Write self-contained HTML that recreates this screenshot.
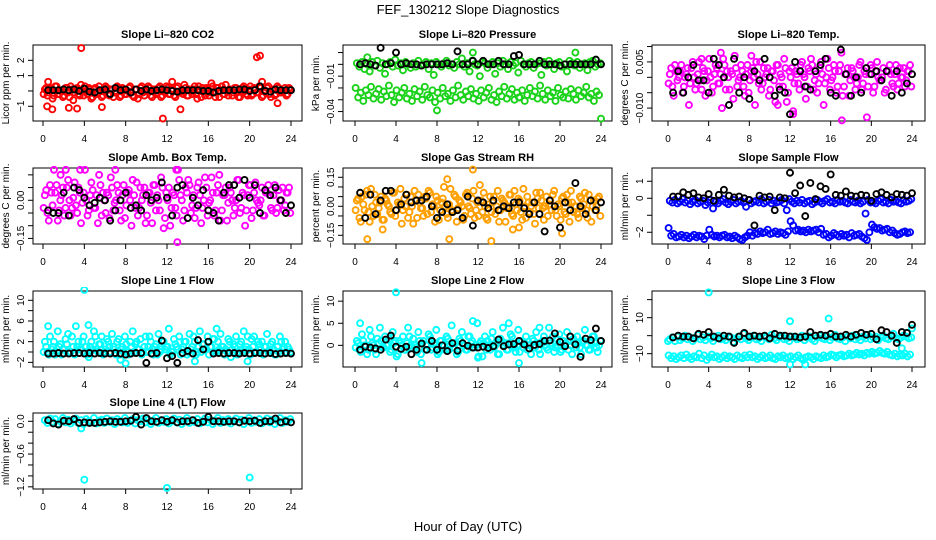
<!DOCTYPE html>
<html><head><meta charset="utf-8">
<style>
html,body{margin:0;padding:0;background:#fff;}
svg{display:block;font-family:"Liberation Sans",Arial,sans-serif;}
</style></head>
<body>
<svg id="chart" width="936" height="540" viewBox="0 0 936 540" xmlns="http://www.w3.org/2000/svg">
<text x="468" y="14" font-size="13" text-anchor="middle">FEF_130212  Slope Diagnostics</text>
<text x="468" y="531" font-size="13" text-anchor="middle">Hour of Day (UTC)</text>
</svg>
<script>
// ---- data (hours, values) ----
const xTicks = [0,4,8,12,16,20,24];

const co2Red = [0.1,-0.3,0.2,-0.5,0.3,-0.2,0.0,-0.4,0.2,-0.1,0.3,-0.6,0.1,-0.2,0.4,-0.3,0.0,0.2,-0.5,0.1,-0.2,0.3,-0.4,0.0,0.2,-0.3,0.1,-0.1,0.3,-0.4,0.2,-0.2,0.0,0.3,-0.3,0.1,-0.5,0.2,-0.1,0.0,0.3,-0.3,0.1,-0.2,0.2,-0.4,0.0,0.3,-0.2,0.1,-0.3,0.2,-0.1,0.0,0.4,-0.3,0.1,-0.2,0.3,-0.5,0.0,0.2,-0.3,0.1,-0.1,0.3,-0.4,0.2,0.0,-0.2,0.4,-0.3,0.1,-0.1,0.2,-0.4,0.0,0.3,-0.2,0.1,-0.3,0.2,-0.1,0.3,-0.4,0.0,0.2,-0.2,0.1,-0.3,0.3,-0.1,0.0,0.2,-0.2,0.1];
const co2Red2 = [-0.2,0.2,-0.1,0.1,-0.3,0.3,-0.2,0.0,-0.3,0.2,-0.4,0.1,-0.1,0.2,-0.3,0.0,0.3,-0.2,0.1,-0.4,0.2,-0.1,0.0,-0.3,0.3,-0.2,0.1,-0.4,0.0,0.2,-0.3,0.1,-0.2,0.2,-0.1,-0.4,0.1,-0.2,0.3,-0.3,0.0,0.2,-0.4,0.1,-0.1,0.3,-0.3,0.0,0.2,-0.2,0.1,-0.4,0.3,-0.1,-0.2,0.2,-0.3,0.0,0.1,-0.2,0.3,-0.4,0.0,0.2,-0.3,0.1,-0.1,0.2,-0.4,0.3,-0.2,0.0,0.1,-0.3,0.2,-0.1,-0.4,0.2,0.0,-0.3,0.3,-0.2,0.1,-0.1,0.2,-0.3,0.0,0.3,-0.4,0.1,-0.2,0.2,-0.1,0.0,-0.3,0.2];
const co2OutT = [3.7,20.7,21.0,0.4,0.9,2.5,3.3,5.7,11.6,13.3,22.7,0.5,12.5,21.2,16.3];
const co2OutV = [2.8,2.2,2.3,-1.0,-1.2,-1.1,-1.15,-1.05,-1.8,-1.2,-0.8,0.6,0.6,0.6,0.5];
const co2Black = [0.05,0.05,0.05,0.1,0.05,0.1,0.0,0.15,-0.05,-0.1,0.05,0.1,-0.2,0.2,0.05,0.1,-0.1,0.1,0.0,0.1,0.0,0.05,0.1,0.05,0.0,-0.05,0.05,0.05,0.05,0.05,0.0,0.0,-0.1,0.0,0.05,0.05,0.05,0.1,0.1,0.0,0.05,0.3,0.0,-0.05,0.1,0.05,0.05,0.05];

const presGreenA = [0.001,-0.002,0.002,-0.004,0.0,-0.006,0.002,-0.001,0.003,-0.003,0.001,-0.008,0.0,0.002,-0.002,0.004,-0.001,0.001,-0.005,0.002,0.0,-0.003,0.001,-0.002,0.003,-0.001,0.0,0.002,-0.004,0.001,-0.009,0.002,0.0,-0.002,0.001,0.003,-0.001,0.0,-0.003,0.002,0.0,0.005,-0.002,0.001,-0.006,0.003,0.0,-0.001,-0.010,0.002,0.001,-0.003,0.0,0.002,-0.008,0.001,-0.002,0.003,0.0,-0.004,0.002,-0.001,0.001,-0.007,0.003,0.0,-0.002,0.001,0.002,-0.003,0.0,0.001,-0.009,0.002,-0.001,0.003,0.0,-0.004,0.001,0.002,-0.002,0.0,-0.006,0.003,0.001,-0.001,0.002,-0.003,0.0,0.001,-0.005,0.002,0.003,-0.002,0.0,0.001];
const presGreenB = [-0.020,-0.028,-0.024,-0.031,-0.022,-0.026,-0.019,-0.029,-0.025,-0.021,-0.030,-0.023,-0.027,-0.018,-0.026,-0.032,-0.022,-0.028,-0.024,-0.020,-0.029,-0.025,-0.031,-0.021,-0.027,-0.023,-0.030,-0.019,-0.026,-0.028,-0.022,-0.032,-0.024,-0.029,-0.020,-0.027,-0.025,-0.031,-0.022,-0.028,-0.018,-0.026,-0.030,-0.023,-0.027,-0.021,-0.029,-0.025,-0.031,-0.022,-0.028,-0.024,-0.020,-0.030,-0.026,-0.032,-0.023,-0.027,-0.019,-0.029,-0.025,-0.021,-0.030,-0.024,-0.028,-0.022,-0.031,-0.026,-0.020,-0.027,-0.023,-0.029,-0.018,-0.025,-0.030,-0.022,-0.027,-0.024,-0.031,-0.020,-0.026,-0.028,-0.023,-0.029,-0.021,-0.025,-0.030,-0.022,-0.027,-0.024,-0.019,-0.028,-0.025,-0.031,-0.023,-0.026];
const presOutT = [8,24,16,21.5,11.5,1.2];
const presOutV = [-0.039,-0.046,-0.028,0.01,0.01,0.006];
const presBlack = [0.0,0.001,0.0,-0.001,0.014,0.0,0.001,0.010,0.0,0.001,0.0,0.0,-0.001,0.0,0.0,0.0,0.0,0.001,0.0,0.011,0.0,0.0,0.003,0.0,0.003,0.0,0.0,0.003,0.0,0.0,0.007,0.008,0.0,0.0,0.0,0.003,0.0,0.0,0.0,-0.001,0.0,0.0,0.0,0.0,0.0,0.0,0.004,0.0];

const tempMagA = [0.001,-0.003,0.004,-0.001,0.002,-0.005,0.0,0.003,-0.002,0.005,-0.004,0.001,-0.001,0.003,-0.006,0.002,0.0,-0.003,0.004,-0.002,0.001,0.006,-0.004,0.0,0.002,-0.007,0.003,-0.001,0.004,-0.003,0.001,-0.005,0.002,0.0,0.005,-0.002,-0.004,0.003,0.001,-0.006,0.002,-0.001,0.004,-0.003,0.0,0.006,-0.008,0.002,0.003,-0.002,0.001,-0.004,0.005,0.0,-0.003,0.002,0.004,-0.001,-0.005,0.003,0.001,-0.002,0.006,-0.004,0.0,0.002,-0.003,0.004,-0.006,0.001,0.003,-0.001,0.002,-0.004,0.0,0.005,-0.002,0.001,-0.003,0.004,-0.005,0.002,0.0,-0.001,0.003,-0.004,0.002,0.001,-0.003,0.004,-0.002,0.0,0.003,-0.001,0.002,-0.003];
const tempMagB = [-0.002,0.003,-0.006,0.002,0.0,0.004,-0.003,0.001,-0.009,0.003,0.0,-0.002,0.005,-0.004,0.002,-0.001,0.006,-0.005,0.001,0.003,-0.002,-0.010,0.004,0.002,-0.004,0.001,0.007,-0.003,0.0,0.002,-0.006,0.004,-0.001,0.003,-0.009,0.001,0.005,-0.002,0.0,0.003,-0.004,0.002,-0.008,0.004,0.001,-0.003,0.003,-0.005,0.0,-0.011,0.002,-0.002,0.004,0.001,-0.007,0.003,0.006,-0.004,0.001,-0.002,0.005,-0.009,0.0,0.003,-0.001,0.004,-0.005,0.002,0.008,-0.003,0.001,-0.006,0.003,0.0,-0.002,0.004,-0.004,0.002,-0.013,0.001,0.003,-0.003,0.005,-0.001,0.0,-0.005,0.002,0.004,-0.002,0.001,-0.004,0.003,0.0,-0.003,0.002,0.004];
const tempOutT = [5.2,8.2,3.3,17.1,12.3,10.8];
const tempOutV = [0.008,0.007,0.006,-0.014,-0.012,-0.009];
const tempBlack = [-0.005,0.002,-0.005,0.0,0.004,-0.001,-0.001,-0.005,0.006,0.004,0.0,-0.009,0.006,-0.005,0.0,-0.007,0.002,-0.001,0.006,0.0,-0.006,-0.004,-0.005,-0.012,0.005,0.002,-0.003,-0.004,0.002,0.004,0.006,-0.005,-0.006,0.009,0.001,-0.006,0.0,-0.005,0.003,0.001,0.002,-0.001,0.002,-0.006,0.002,-0.005,-0.002,0.001];

const ambMagA = [0.02,-0.05,0.06,-0.02,0.03,-0.08,0.0,0.05,-0.03,0.08,-0.06,0.01,-0.02,0.05,-0.09,0.03,0.0,-0.04,0.07,-0.03,0.02,0.10,-0.06,0.0,0.03,-0.07,0.05,-0.01,0.06,-0.04,0.02,-0.07,0.03,0.0,0.08,-0.03,-0.06,0.05,0.02,-0.09,0.03,-0.01,0.06,-0.04,0.0,0.09,-0.11,0.03,0.05,-0.03,0.02,-0.06,0.08,0.0,-0.04,0.03,0.06,-0.02,-0.07,0.05,0.02,-0.03,0.09,-0.06,0.0,0.03,-0.04,0.06,-0.08,0.02,0.05,-0.01,0.03,-0.06,0.0,0.08,-0.03,0.02,-0.04,0.06,-0.07,0.03,0.0,-0.02,0.05,-0.06,0.03,0.02,-0.04,0.06,-0.03,0.0,0.05,-0.02,0.03,-0.05];
const ambMagB = [-0.03,0.04,-0.08,0.03,0.12,0.06,-0.04,0.02,-0.06,0.05,0.0,-0.03,0.07,-0.05,0.03,-0.01,0.12,-0.06,0.02,0.04,-0.03,-0.09,0.06,0.03,-0.05,0.02,0.09,-0.04,0.0,0.03,-0.08,0.06,-0.02,0.04,-0.10,0.02,0.07,-0.03,0.0,0.05,-0.06,0.03,-0.09,0.06,0.02,-0.04,0.05,-0.07,0.0,-0.10,0.03,-0.03,0.12,0.02,-0.08,0.05,0.08,-0.05,0.02,-0.03,0.07,-0.09,0.0,0.05,-0.01,0.09,-0.06,0.03,0.10,-0.04,0.02,-0.08,0.05,0.0,-0.03,0.08,-0.05,0.03,-0.10,0.02,0.06,-0.04,0.07,-0.01,0.0,-0.06,0.03,0.06,-0.03,0.02,-0.05,0.04,0.0,-0.04,0.03,0.05];
const ambOutT = [13,3.6,1.7,2.2,7.0,12.9];
const ambOutV = [-0.165,0.12,0.1,0.12,0.12,0.12];
const ambBlack = [-0.04,-0.05,-0.05,0.03,-0.06,0.05,0.04,0.01,-0.02,-0.01,0.01,0.0,-0.08,-0.04,0.0,0.03,-0.03,-0.02,-0.04,0.02,0.0,0.01,0.07,0.01,-0.06,0.05,0.06,-0.07,0.01,-0.02,0.04,-0.04,-0.05,-0.08,0.03,0.06,0.06,0.01,0.08,0.01,0.06,-0.05,0.04,0.02,0.05,0.0,-0.05,-0.02];

const rhOrangeA = [0.03,-0.06,0.05,-0.02,0.08,-0.08,0.0,0.06,-0.04,0.02,-0.07,0.04,0.01,-0.03,0.07,-0.05,0.02,0.09,-0.02,0.0,-0.06,0.05,-0.09,0.03,0.06,-0.01,-0.05,0.04,0.08,-0.03,0.0,0.05,-0.07,0.02,0.10,-0.04,0.01,-0.02,0.06,-0.08,0.03,0.0,-0.05,0.07,-0.01,0.04,-0.06,0.02,0.11,-0.03,0.0,-0.07,0.05,0.02,-0.04,0.08,-0.02,0.03,-0.08,0.0,0.06,-0.05,0.01,0.04,-0.03,0.09,-0.06,0.02,0.0,-0.04,0.07,-0.01,0.03,-0.07,0.05,0.01,-0.02,0.08,-0.05,0.0,0.04,-0.03,0.06,-0.08,0.02,0.0,-0.04,0.05,-0.01,0.07,-0.06,0.03,0.0,-0.02,0.04,-0.05];
const rhOrangeB = [-0.02,0.04,-0.08,0.01,0.06,-0.03,0.09,-0.05,0.02,-0.01,0.05,-0.07,0.03,0.0,-0.04,0.07,-0.02,0.01,-0.09,0.04,0.06,-0.03,0.0,0.08,-0.06,0.02,-0.01,0.05,-0.04,0.07,0.01,-0.08,0.03,-0.02,0.04,0.0,-0.06,0.09,-0.03,0.05,-0.01,0.02,-0.07,0.06,0.0,-0.04,0.08,-0.02,-0.05,0.03,0.07,-0.06,0.01,-0.03,0.05,0.0,-0.08,0.04,0.02,-0.01,0.06,-0.04,0.08,-0.02,0.03,-0.07,0.0,0.05,-0.03,0.02,-0.09,0.04,0.07,-0.01,0.0,-0.05,0.03,0.06,-0.02,0.01,-0.07,0.05,-0.04,0.02,0.08,-0.03,0.0,-0.06,0.04,0.01,-0.02,0.06,-0.08,0.03,0.0,0.05];
const rhOutT = [11.5,1.2,9.2,13.3,20.2,9.0,2.7,15.4,16.0];
const rhOutV = [0.19,-0.17,-0.17,-0.18,-0.14,0.14,-0.12,-0.12,-0.11];
const rhBlack = [0.07,-0.06,0.06,-0.04,0.03,0.08,0.08,-0.02,0.01,0.06,0.02,0.03,0.03,0.05,0.0,-0.06,-0.03,0.01,-0.03,-0.02,-0.06,0.05,-0.1,0.03,0.02,-0.01,0.03,-0.02,0.0,-0.01,0.02,0.02,-0.01,-0.04,0.02,-0.04,-0.13,0.03,0.0,-0.11,0.02,-0.02,0.12,0.0,-0.04,0.03,-0.02,0.02];

const sampBlueA = [-0.15,-0.25,-0.1,-0.3,-0.2,-0.05,-0.25,-0.15,-0.35,-0.2,-0.1,-0.3,-0.2,-0.15,-0.4,-0.25,-0.1,-0.6,-0.2,-0.3,-0.15,-0.05,-0.25,-0.35,-0.2,-0.1,-0.3,-0.2,-0.15,-0.25,-0.5,-0.1,-0.3,-0.2,-0.15,-0.25,-0.05,-0.3,-0.2,-0.1,-0.3,-0.15,-0.25,-0.2,-0.1,-0.3,-0.7,-0.05,-0.2,-0.3,-0.15,-0.25,-0.1,-0.3,-0.2,-0.15,-0.35,-0.25,-0.1,-0.2,-0.3,-0.15,-0.05,-0.25,-0.2,-0.3,-0.1,-0.2,-0.15,-0.25,-0.3,-0.1,-0.2,-0.25,-0.15,-0.3,-0.2,-0.9,-0.1,-0.25,-0.2,-0.3,-0.15,-0.05,-0.25,-0.2,-0.3,-0.1,-0.2,-0.15,-0.25,-0.3,-0.1,-0.2,-0.15,-0.05];
const sampBlueB = [-1.75,-2.2,-2.1,-2.3,-2.25,-2.15,-2.3,-2.2,-2.35,-2.25,-2.15,-2.3,-2.2,-2.25,-2.4,-2.2,-1.85,-2.15,-2.25,-2.2,-2.3,-2.2,-2.15,-2.3,-2.25,-2.35,-2.2,-2.3,-2.4,-2.45,-2.3,-2.2,-2.0,-2.2,-2.05,-2.1,-1.95,-2.05,-2.0,-1.85,-2.1,-2.05,-1.95,-2.1,-2.0,-2.05,-2.15,-1.95,-1.35,-1.6,-1.9,-1.85,-1.95,-1.9,-2.0,-1.85,-1.95,-1.9,-1.85,-2.0,-1.8,-2.15,-2.1,-2.3,-2.2,-2.05,-2.15,-2.25,-2.1,-2.2,-2.15,-2.3,-2.05,-2.2,-2.15,-2.1,-2.25,-2.35,-2.45,-2.0,-1.55,-1.7,-1.8,-1.75,-1.9,-1.85,-1.8,-2.0,-1.9,-2.05,-2.15,-2.1,-2.0,-1.95,-2.05,-2.0];
const sampBlack = [0.1,0.1,0.35,0.2,0.3,0.05,0.0,0.25,-0.15,0.2,0.5,0.15,0.05,0.1,0.0,-0.1,-1.6,0.15,0.05,0.1,-0.7,0.05,0.0,1.5,0.3,0.75,-1.05,0.9,-0.05,0.7,0.55,1.4,0.2,0.15,0.4,0.15,0.1,0.2,0.15,-0.15,0.25,0.35,0.2,0.05,0.25,0.2,0.15,0.3];

const l1CyanA = [2,0,3,1,-0.5,4,1.5,0.5,2.5,3.5,0,1,5,2,0.5,3,1,-1,2,4,0.5,1.5,3,0,2.5,1,3.5,0.5,2,-0.5,1,3,0,2,4,1.5,0.5,2.5,0,3,1,2,-0.5,1.5,3.5,0.5,2,1,4.5,0,2.5,1,3,0.5,2,-0.5,3.5,1,2,0,4,1.5,0.5,3,1,2.5,0,2,3.5,1,0.5,2.5,-1,1.5,3,0,2,4,1,0.5,2.5,3,0,1.5,2,1,3.5,0.5,2,-0.5,1,3,0.5,2,1,0];
const l1CyanB = [0,1,-0.5,0.5,2,0,1,-0.5,0.5,1.5,0,3,-0.5,1,0.5,2,0,-0.5,1,0.5,3,0,1.5,-0.5,0.5,2,0,1,-0.5,2.5,0.5,0,1.5,-0.5,1,0,2,0.5,-0.5,1,0,3,0.5,1,-0.5,0,2,0.5,1,-0.5,0,1.5,0.5,-0.5,1,2,0,0.5,3,-0.5,1,0,1.5,0.5,-0.5,1,2.5,0,0.5,1,-0.5,0,2,0.5,1,-0.5,1.5,0,0.5,3,-0.5,1,0,2,0.5,-0.5,1,0,1.5,0.5,-0.5,0,2,1,0,0.5];
const l1OutT = [4,7.5,8,14.7,19.8,0.5,4.4,16.8];
const l1OutV = [12,-1.5,-2.2,-1.8,-1.8,5,5.2,4.5];
const l1Black = [-0.3,-0.3,-0.2,-0.3,-0.3,-0.2,-0.2,-0.3,-0.2,-0.3,-0.2,-0.3,-0.3,-0.2,-0.3,-0.5,-0.3,-0.2,-0.2,-2.1,-0.3,-0.2,2.2,-1.2,-0.8,-2.1,-0.2,0.2,-0.3,2.3,0.5,2.0,-0.3,-0.2,-0.3,-0.2,-0.2,-0.3,-0.2,-0.3,-0.2,-0.2,-0.3,-0.2,-0.4,-0.3,-0.2,-0.3];

const l2CyanA = [1,-1,2.5,0,-2,3.5,0.5,-1,1.5,4,-0.5,2,0,-1.5,3,1,-2,0.5,2,-1,4,0,1.5,-0.5,3,-2,1,0,2.5,-1,0.5,3.5,-1.5,1,0,2,-1,4.5,0.5,-2,1.5,3,0,-1,2,1,-0.5,5,0.5,-2.5,2,1,-1,3,0,-2,1.5,4,0.5,-1,2.5,0,-1.5,3.5,1,-0.5,2,0,-2,1,3,-1,0.5,2,-0.5,4,0,-1.5,1.5,2.5,-1,0,3,1,-2,0.5,2,-0.5,1,3.5,0,-1,2,0.5,-1.5,1];
const l2CyanB = [-0.5,0.5,-1.5,1,0,-1,2,0,-2,0.5,1,-0.5,0,1.5,-1,0.5,-2.5,1,0,-1,0.5,2,-0.5,0,-1.5,1,0.5,-1,0,2,-0.5,0.5,-2,1,0,-1,1.5,0,-0.5,0.5,-1.5,1,0,-1,2,0.5,-0.5,0,-2.5,1,0.5,-1,0,1.5,-0.5,0.5,-2,1,0,-1,0.5,2,-0.5,0,-1.5,1,0.5,-1,0,1.5,-0.5,0.5,-2,1,0,-1,0.5,2,-0.5,0,-1.5,1,0.5,-1,0,1.5,-0.5,0.5,-2,1,0,-1,0.5,2,-0.5,0];
const l2OutT = [4,6.5,16,0.5,11.5,15,12,18];
const l2OutV = [12,-4,-4,5,5.5,5,-2.8,4];
const l2Black = [-1,-0.3,-0.5,-0.7,-1,1.3,2.2,-0.3,-0.8,-0.3,-2,-1,0.4,-1,1,-1,0,-1.3,0.5,-1.2,0.5,-0.1,-0.5,-0.5,-0.3,-0.6,-0.2,1.3,-0.2,0.2,0.3,1.0,0.2,-0.7,0.1,0.3,1.0,1.1,2.7,0.8,-0.2,2.0,0.2,-2.6,1.5,1.2,3.8,1.0];

const l3CyanA = [-2,-1,-3,-0.5,-2.5,-1.5,0,-2,-1,-3,-1.5,0.5,-2,-1,-2.5,-0.5,-1.5,-3,-1,0,-2,-1.5,-2.5,-0.5,-1,-3.5,-1.5,-0.5,-2,1,-1.5,-2.5,-1,0,-2,-1.5,-3,-0.5,-1,-2,0.5,-1.5,-2.5,-1,0,-2,-1.5,-3,-0.5,-1,-2,-1.5,0,-2.5,-1,-0.5,-2,-3,-1,0,-1.5,-2,-0.5,-2.5,-1,0.5,-1.5,-2,-1,-3,-0.5,-1.5,0,-2,-1,-2.5,-0.5,-1.5,0.5,-2,-1,-0.5,-2.5,-1,0,-1.5,-2,-0.5,1,-1.5,-2,-1,0,-0.5,-1.5,-1];
const l3CyanB = [-11,-12.5,-11.5,-13,-12,-11,-12.5,-10.5,-12,-13,-11.5,-12,-10,-12.5,-11,-13.5,-12,-10.5,-12,-11.5,-13,-12,-11,-12.5,-11.5,-12,-13,-11,-12,-12.5,-11,-12,-10.5,-12,-11.5,-13,-12,-11,-12.5,-12,-11,-12.5,-13,-11.5,-12,-11,-12.5,-12,-11.5,-13,-12,-11,-12.5,-13.5,-12,-11.5,-12,-13,-11.5,-12,-12.5,-11,-12,-11.5,-10.5,-11,-12,-11,-10.5,-11.5,-11,-10,-11,-10.5,-9.5,-10.5,-10,-11,-9.5,-10,-9,-10,-9.5,-8.5,-9.5,-10,-9,-10.5,-11,-10,-11.5,-10.5,-11,-10,-11.5,-10.5];
const l3OutT = [4,12,15.8,24,23,0,12,13.5];
const l3OutV = [24,8,9.5,4,-7,-3,-16,-16];
const l3Black = [-1,0,-0.5,-0.5,-1.5,1,0.5,2,-0.5,-1.5,0,-0.5,-4,-0.5,1.5,-0.5,0,-0.5,0,-1.5,1,0,0,-0.5,-0.5,-1,-0.5,2,0,0.5,0,1,-0.5,-0.5,0.5,-0.5,0.5,1.5,0.5,1,-2,3,2,0,-4,2,1.5,6];

const l4CyanA = [0.02,-0.03,0.05,-0.01,0.04,-0.05,0.0,0.06,-0.02,0.03,-0.04,0.01,0.05,-0.03,0.02,-0.05,0.04,0.0,-0.02,0.06,-0.04,0.01,0.03,-0.03,0.05,-0.01,0.02,-0.05,0.04,0.0,-0.02,0.06,-0.03,0.01,0.04,-0.04,0.02,0.0,0.05,-0.02,0.03,-0.05,0.01,0.06,-0.03,0.02,-0.01,0.04,-0.04,0.0,0.05,-0.02,0.03,-0.05,0.01,0.06,-0.03,0.02,-0.01,0.04,-0.04,0.0,0.05,-0.02,0.03,-0.05,0.01,0.06,-0.03,0.02,-0.01,0.04,-0.04,0.0,0.05,-0.02,0.03,-0.05,0.01,0.06,-0.03,0.02,-0.01,0.04,-0.04,0.0,0.05,-0.02,0.03,-0.05,0.01,0.06,-0.03,0.02,-0.01,0.04];
const l4OutT = [4,12,20,3.7];
const l4OutV = [-1.07,-1.22,-1.03,-0.13];
const l4Black = [0.02,-0.04,-0.06,0.01,0.0,0.04,-0.03,-0.02,-0.03,-0.03,-0.02,-0.01,0.0,-0.01,-0.01,0.0,0.01,0.08,-0.06,0.06,0.0,-0.01,0.02,-0.01,0.02,-0.02,0.0,0.0,0.02,-0.03,-0.01,0.08,0.0,0.0,-0.01,0.0,0.0,-0.02,0.01,0.0,0.01,-0.03,0.0,0.0,0.05,-0.02,0.0,-0.02];

// ---- layout ----
const NS = 'http://www.w3.org/2000/svg';
const svg = document.getElementById('chart');
const COLS = [{l:33,r:302,x0:43,x1:291},{l:343,r:612,x0:355,x1:601},{l:652,r:925,x0:668,x1:912}];
const ROWS = [{t:45,b:121},{t:168,b:244},{t:291,b:367},{t:413,b:489}];

function mk(tag, attrs, parent){
  const e = document.createElementNS(NS, tag);
  for (const k in attrs) e.setAttribute(k, attrs[k]);
  (parent||svg).appendChild(e);
  return e;
}

function drawPanel(p){
  const c = COLS[p.col], r = ROWS[p.row];
  const g = mk('g', {});
  
  
  const xs = h => c.x0 + (c.x1 - c.x0) * h / 24;
  const ys = v => r.b - (v - p.ymin) / (p.ymax - p.ymin) * (r.b - r.t);

  const box = mk('rect', {x:c.l, y:r.t, width:c.r-c.l, height:r.b-r.t, fill:'none', stroke:'#000', 'stroke-width':1}, g);
  
  

  const title = mk('text', {x:(c.l+c.r)/2, y:r.t-7, 'font-size':11, 'font-weight':'bold', 'text-anchor':'middle'}, g);
  title.textContent = p.title;
  
  

  const xa = mk('g', {}, g);
  
  
  mk('line', {x1:xs(xTicks[0]), x2:xs(xTicks[xTicks.length-1]), y1:r.b, y2:r.b, stroke:'#000'}, xa);
  xTicks.forEach(t => {
    mk('line', {x1:xs(t), x2:xs(t), y1:r.b, y2:r.b+5, stroke:'#000'}, xa);
    const tl = mk('text', {x:xs(t), y:r.b+21, 'font-size':10, 'text-anchor':'middle'}, xa);
    tl.textContent = t;
    
    
  });

  const ya = mk('g', {}, g);
  
  
  mk('line', {x1:c.l, x2:c.l, y1:ys(p.yTicks[0]), y2:ys(p.yTicks[p.yTicks.length-1]), stroke:'#000'}, ya);
  p.yTicks.forEach((t, i) => {
    const y = ys(t);
    mk('line', {x1:c.l-5, x2:c.l, y1:y, y2:y, stroke:'#000'}, ya);
    if (p.yLabels[i]) {
      const lx = c.l - 9;
      const tl = mk('text', {x:lx, y:y, 'font-size':10, 'text-anchor':'middle', transform:'rotate(-90 '+lx+' '+y+')'}, ya);
      tl.textContent = p.yLabels[i];
      
      
    }
  });
  const yl = c.l - 24, ym = (r.t + r.b) / 2;
  const ylab = mk('text', {x:yl, y:ym, 'font-size':10, 'text-anchor':'middle', transform:'rotate(-90 '+yl+' '+ym+')'}, g);
  ylab.textContent = p.ylab;
  
  

  const clip = 'clip-' + p.name;
  const cp = mk('clipPath', {id:clip}, g);
  mk('rect', {x:c.l-4, y:r.t-4, width:c.r-c.l+8, height:r.b-r.t+8}, cp);
  const pts = mk('g', {'clip-path':'url(#'+clip+')'}, g);
  
  

  function dot(h, v, color){
    const e = mk('circle', {cx:xs(h), cy:ys(v), r:3, fill:'none', stroke:color, 'stroke-width':1.9}, pts);
    
    
  }
  p.bands.forEach((arr, k) => arr.forEach((v, i) => dot(i * 24 / arr.length + (k % 2 ? 0.06 : 0.18), v, p.color)));
  p.outT.forEach((h, i) => dot(h, p.outV[i], p.color));
  p.black.forEach((v, i) => dot((i + 1) * 24 / p.black.length, v, '#000'));
}

const panels = [
  {name:'li820-co2', col:0,row:0,title:'Slope Li\u2013820 CO2', ylab:'Licor ppm per min.', ymin:-1.96, ymax:3.0,
   yTicks:[-1,0,1,2], yLabels:['\u22121','','1','2'], color:'#ff0000', bands:[co2Red,co2Red2], outT:co2OutT, outV:co2OutV, black:co2Black},
  {name:'li820-pressure', col:1,row:0,title:'Slope Li\u2013820 Pressure', ylab:'kPa per min.', ymin:-0.048, ymax:0.0164,
   yTicks:[-0.04,-0.03,-0.02,-0.01,0,0.01], yLabels:['\u22120.04','','','\u22120.01','',''], color:'#19d219', bands:[presGreenA,presGreenB], outT:presOutT, outV:presOutV, black:presBlack},
  {name:'li820-temp', col:2,row:0,title:'Slope Li\u2013820 Temp.', ylab:'degrees C per min.', ymin:-0.0142, ymax:0.0105,
   yTicks:[-0.01,-0.005,0,0.005,0.01], yLabels:['\u22120.010','','','0.005',''], color:'#ff00ff', bands:[tempMagA,tempMagB], outT:tempOutT, outV:tempOutV, black:tempBlack},
  {name:'amb-box-temp', col:0,row:1,title:'Slope Amb. Box Temp.', ylab:'degrees C per min.', ymin:-0.172, ymax:0.127,
   yTicks:[-0.15,-0.1,-0.05,0,0.05,0.1], yLabels:['\u22120.15','','','0.00','',''], color:'#ff00ff', bands:[ambMagA,ambMagB], outT:ambOutT, outV:ambOutV, black:ambBlack},
  {name:'gas-stream-rh', col:1,row:1,title:'Slope Gas Stream RH', ylab:'percent per min.', ymin:-0.195, ymax:0.198,
   yTicks:[-0.15,-0.1,-0.05,0,0.05,0.1,0.15], yLabels:['\u22120.15','','','0.00','','','0.15'], color:'#ff9f00', bands:[rhOrangeA,rhOrangeB], outT:rhOutT, outV:rhOutV, black:rhBlack},
  {name:'sample-flow', col:2,row:1,title:'Slope Sample Flow', ylab:'ml/min per min.', ymin:-2.69, ymax:1.78,
   yTicks:[-2,-1,0,1], yLabels:['\u22122','','0','1'], color:'#0000ff', bands:[sampBlueA,sampBlueB], outT:[], outV:[], black:sampBlack},
  {name:'line1-flow', col:0,row:2,title:'Slope Line 1 Flow', ylab:'ml/min per min.', ymin:-2.9, ymax:11.8,
   yTicks:[-2,0,2,4,6,8,10], yLabels:['\u22122','','2','','6','','10'], color:'#00ffff', bands:[l1CyanA,l1CyanB], outT:l1OutT, outV:l1OutV, black:l1Black},
  {name:'line2-flow', col:1,row:2,title:'Slope Line 2 Flow', ylab:'ml/min per min.', ymin:-4.9, ymax:12.3,
   yTicks:[0,5,10], yLabels:['0','5','10'], color:'#00ffff', bands:[l2CyanA,l2CyanB], outT:l2OutT, outV:l2OutV, black:l2Black},
  {name:'line3-flow', col:2,row:2,title:'Slope Line 3 Flow', ylab:'ml/min per min.', ymin:-17.4, ymax:24.8,
   yTicks:[-10,0,10,20], yLabels:['\u221210','','10',''], color:'#00ffff', bands:[l3CyanA,l3CyanB], outT:l3OutT, outV:l3OutV, black:l3Black},
  {name:'line4-lt-flow', col:0,row:3,title:'Slope Line 4 (LT) Flow', ylab:'ml/min per min.', ymin:-1.24, ymax:0.152,
   yTicks:[-1.2,-1.0,-0.8,-0.6,-0.4,-0.2,0.0], yLabels:['\u22121.2','','','\u22120.6','','','0.0'], color:'#00ffff', bands:[l4CyanA], outT:l4OutT, outV:l4OutV, black:l4Black}
];
panels.forEach(drawPanel);
</script>
</body></html>
